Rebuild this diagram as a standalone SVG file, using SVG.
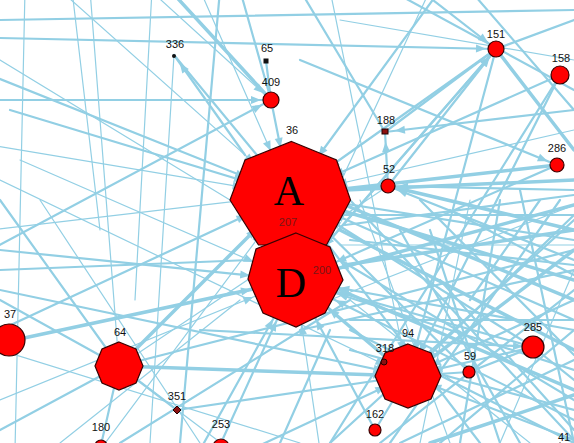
<svg xmlns="http://www.w3.org/2000/svg" width="574" height="443" viewBox="0 0 574 443">
<style>
.e{stroke:#92cfe4;stroke-width:2.2;fill:none;stroke-linecap:round}
.t{stroke-width:1.2}
.k{stroke-width:3.5}
.n{fill:#ff0000;stroke:#3a0000;stroke-width:1.2}
.s{fill:#8b1010;stroke:#220000;stroke-width:1}
.l{font-family:"Liberation Sans",Arial,sans-serif;font-size:11px;fill:#111;text-anchor:middle}
.big{font-family:"Liberation Serif","Times New Roman",serif;font-size:42px;fill:#000;text-anchor:middle}
.in{font-family:"Liberation Sans",Arial,sans-serif;font-size:11px;fill:#7a1616;text-anchor:middle}
</style>
<defs>
<marker id="aA" viewBox="0 0 10 8" markerWidth="10" markerHeight="8" refX="58" refY="4" orient="auto" markerUnits="userSpaceOnUse" overflow="visible"><path d="M0,0L10,4L0,8z" fill="#92cfe4"/></marker>
<marker id="aD" viewBox="0 0 10 8" markerWidth="10" markerHeight="8" refX="55" refY="4" orient="auto" markerUnits="userSpaceOnUse" overflow="visible"><path d="M0,0L10,4L0,8z" fill="#92cfe4"/></marker>
<marker id="aM" viewBox="0 0 10 8" markerWidth="10" markerHeight="8" refX="35" refY="4" orient="auto" markerUnits="userSpaceOnUse" overflow="visible"><path d="M0,0L10,4L0,8z" fill="#92cfe4"/></marker>
<marker id="aS" viewBox="0 0 10 8" markerWidth="10" markerHeight="8" refX="20" refY="4" orient="auto" markerUnits="userSpaceOnUse" overflow="visible"><path d="M0,0L10,4L0,8z" fill="#92cfe4"/></marker>
</defs>
<rect width="574" height="443" fill="#ffffff"/>
<g id="connectors">
<line class="e" x1="-10" y1="75" x2="290" y2="195" marker-end="url(#aA)"/>
<line class="e t" x1="-10" y1="145" x2="290" y2="195" marker-end="url(#aA)"/>
<line class="e" x1="0" y1="330" x2="290" y2="195" marker-end="url(#aA)"/>
<line class="e t" x1="60" y1="-10" x2="290" y2="195" marker-end="url(#aA)"/>
<line class="e" x1="10" y1="110" x2="290" y2="195" marker-end="url(#aA)"/>
<line class="e k" x1="119" y1="366" x2="290" y2="195" marker-end="url(#aA)"/>
<line class="e" x1="574" y1="240" x2="290" y2="195" marker-end="url(#aA)"/>
<line class="e k" x1="574" y1="280" x2="290" y2="195" marker-end="url(#aA)"/>
<line class="e" x1="496" y1="49" x2="290" y2="195" marker-end="url(#aA)"/>
<line class="e" x1="560" y1="75" x2="290" y2="195" marker-end="url(#aA)"/>
<line class="e k" x1="557" y1="165" x2="290" y2="195" marker-end="url(#aA)"/>
<line class="e" x1="533" y1="347" x2="290" y2="195" marker-end="url(#aA)"/>
<line class="e" x1="469" y1="372" x2="290" y2="195" marker-end="url(#aA)"/>
<line class="e t" x1="574" y1="130" x2="290" y2="195" marker-end="url(#aA)"/>
<line class="e" x1="480" y1="443" x2="290" y2="195" marker-end="url(#aA)"/>
<line class="e t" x1="100" y1="450" x2="290" y2="195" marker-end="url(#aA)"/>
<line class="e" x1="271" y1="100" x2="290" y2="195" marker-end="url(#aA)"/>
<line class="e" x1="388" y1="186" x2="290" y2="195" marker-end="url(#aA)"/>
<line class="e" x1="440" y1="-10" x2="290" y2="195" marker-end="url(#aA)"/>
<line class="e t" x1="200" y1="-10" x2="290" y2="195" marker-end="url(#aA)"/>
<line class="e" x1="574" y1="320" x2="290" y2="195" marker-end="url(#aA)"/>
<line class="e t" x1="-10" y1="230" x2="290" y2="195" marker-end="url(#aA)"/>
<line class="e" x1="0" y1="250" x2="295" y2="280" marker-end="url(#aD)"/>
<line class="e t" x1="0" y1="400" x2="295" y2="280" marker-end="url(#aD)"/>
<line class="e k" x1="10" y1="341" x2="295" y2="280" marker-end="url(#aD)"/>
<line class="e" x1="574" y1="330" x2="295" y2="280" marker-end="url(#aD)"/>
<line class="e k" x1="574" y1="205" x2="295" y2="280" marker-end="url(#aD)"/>
<line class="e k" x1="408" y1="376" x2="295" y2="280" marker-end="url(#aD)"/>
<line class="e" x1="200" y1="450" x2="295" y2="280" marker-end="url(#aD)"/>
<line class="e" x1="574" y1="420" x2="295" y2="280" marker-end="url(#aD)"/>
<line class="e" x1="496" y1="49" x2="295" y2="280" marker-end="url(#aD)"/>
<line class="e t" x1="430" y1="-10" x2="295" y2="280" marker-end="url(#aD)"/>
<line class="e" x1="221" y1="443" x2="295" y2="280" marker-end="url(#aD)"/>
<line class="e" x1="557" y1="165" x2="295" y2="280" marker-end="url(#aD)"/>
<line class="e t" x1="20" y1="160" x2="295" y2="280" marker-end="url(#aD)"/>
<line class="e" x1="533" y1="347" x2="295" y2="280" marker-end="url(#aD)"/>
<line class="e" x1="375" y1="430" x2="295" y2="280" marker-end="url(#aD)"/>
<line class="e" x1="574" y1="370" x2="295" y2="280" marker-end="url(#aD)"/>
<line class="e t" x1="320" y1="450" x2="295" y2="280" marker-end="url(#aD)"/>
<line class="e" x1="0" y1="290" x2="408" y2="376" marker-end="url(#aM)"/>
<line class="e k" x1="119" y1="366" x2="408" y2="376" marker-end="url(#aM)"/>
<line class="e" x1="574" y1="300" x2="408" y2="376" marker-end="url(#aM)"/>
<line class="e t" x1="330" y1="-10" x2="408" y2="376" marker-end="url(#aM)"/>
<line class="e" x1="496" y1="49" x2="408" y2="376" marker-end="url(#aM)"/>
<line class="e" x1="574" y1="215" x2="408" y2="376" marker-end="url(#aM)"/>
<line class="e" x1="250" y1="450" x2="408" y2="376" marker-end="url(#aM)"/>
<line class="e" x1="533" y1="347" x2="408" y2="376" marker-end="url(#aM)"/>
<line class="e" x1="560" y1="75" x2="408" y2="376" marker-end="url(#aM)"/>
<line class="e t" x1="0" y1="180" x2="408" y2="376" marker-end="url(#aM)"/>
<line class="e" x1="574" y1="440" x2="408" y2="376" marker-end="url(#aM)"/>
<line class="e" x1="0" y1="200" x2="119" y2="366" marker-end="url(#aS)"/>
<line class="e t" x1="90" y1="-10" x2="119" y2="366" marker-end="url(#aS)"/>
<line class="e" x1="574" y1="250" x2="119" y2="366" marker-end="url(#aS)"/>
<line class="e" x1="0" y1="430" x2="119" y2="366" marker-end="url(#aS)"/>
<line class="e t" x1="388" y1="186" x2="119" y2="366" marker-end="url(#aS)"/>
<line class="e" x1="177" y1="410" x2="119" y2="366"/>
<line class="e" x1="101" y1="445" x2="119" y2="366"/>
<line class="e" x1="0" y1="300" x2="119" y2="366"/>
<line class="e t" x1="25" y1="-10" x2="15" y2="450"/>
<line class="e t" x1="72" y1="-10" x2="100" y2="230"/>
<line class="e t" x1="152" y1="-10" x2="135" y2="300"/>
<line class="e" x1="0" y1="38" x2="496" y2="49" marker-end="url(#aS)"/>
<line class="e" x1="388" y1="186" x2="496" y2="49" marker-end="url(#aS)"/>
<line class="e" x1="330" y1="240" x2="496" y2="49" marker-end="url(#aS)"/>
<line class="e" x1="420" y1="-10" x2="496" y2="49" marker-end="url(#aS)"/>
<line class="e" x1="385" y1="132" x2="496" y2="49"/>
<line class="e" x1="574" y1="20" x2="496" y2="49"/>
<line class="e k" x1="496" y1="49" x2="574" y2="150"/>
<line class="e" x1="470" y1="-10" x2="574" y2="110"/>
<line class="e" x1="0" y1="100" x2="271" y2="100" marker-end="url(#aS)"/>
<line class="e t" x1="150" y1="-10" x2="271" y2="100" marker-end="url(#aS)"/>
<line class="e" x1="-10" y1="250" x2="271" y2="100" marker-end="url(#aS)"/>
<line class="e" x1="266" y1="61" x2="271" y2="100"/>
<line class="e" x1="240" y1="-10" x2="271" y2="100"/>
<line class="e" x1="245" y1="155" x2="174" y2="55" marker-end="url(#aS)"/>
<line class="e t" x1="174" y1="55" x2="150" y2="443"/>
<line class="e" x1="174" y1="55" x2="290" y2="195"/>
<line class="e k" x1="170" y1="-10" x2="271" y2="100"/>
<line class="e" x1="0" y1="20" x2="574" y2="10"/>
<line class="e" x1="388" y1="186" x2="385" y2="132" marker-end="url(#aS)"/>
<line class="e" x1="574" y1="110" x2="385" y2="132" marker-end="url(#aS)"/>
<line class="e" x1="300" y1="-10" x2="385" y2="132"/>
<line class="e" x1="574" y1="190" x2="388" y2="186" marker-end="url(#aS)"/>
<line class="e k" x1="574" y1="230" x2="388" y2="186" marker-end="url(#aS)"/>
<line class="e" x1="574" y1="260" x2="388" y2="186" marker-end="url(#aS)"/>
<line class="e" x1="300" y1="60" x2="557" y2="165" marker-end="url(#aS)"/>
<line class="e" x1="560" y1="75" x2="330" y2="443"/>
<line class="e" x1="390" y1="-10" x2="574" y2="90"/>
<line class="e t" x1="340" y1="20" x2="574" y2="60"/>
<line class="e" x1="200" y1="330" x2="533" y2="347" marker-end="url(#aS)"/>
<line class="e" x1="574" y1="380" x2="533" y2="347"/>
<line class="e k" x1="408" y1="376" x2="574" y2="250"/>
<line class="e" x1="330" y1="443" x2="574" y2="220"/>
<line class="e" x1="380" y1="443" x2="574" y2="290"/>
<line class="e k" x1="340" y1="230" x2="574" y2="350"/>
<line class="e" x1="340" y1="260" x2="574" y2="400"/>
<line class="e" x1="350" y1="200" x2="574" y2="440"/>
<line class="e" x1="440" y1="443" x2="574" y2="330"/>
<line class="e" x1="384" y1="362" x2="408" y2="376"/>
<line class="e" x1="375" y1="430" x2="408" y2="376"/>
<line class="e" x1="469" y1="372" x2="408" y2="376"/>
<line class="e" x1="533" y1="347" x2="469" y2="372"/>
<line class="e" x1="300" y1="330" x2="574" y2="270"/>
<line class="e" x1="340" y1="215" x2="574" y2="215"/>
<line class="e t" x1="340" y1="245" x2="574" y2="245"/>
<line class="e" x1="400" y1="443" x2="574" y2="360"/>
<line class="e t" x1="350" y1="300" x2="530" y2="443"/>
<line class="e" x1="430" y1="230" x2="500" y2="443"/>
<line class="e t" x1="470" y1="200" x2="420" y2="443"/>
<line class="e" x1="520" y1="190" x2="574" y2="443"/>
<line class="e t" x1="0" y1="350" x2="300" y2="443"/>
<line class="e" x1="120" y1="443" x2="350" y2="300"/>
<line class="e t" x1="60" y1="443" x2="240" y2="300"/>
<line class="e" x1="177" y1="410" x2="408" y2="376"/>
<line class="e t" x1="221" y1="443" x2="119" y2="366"/>
<line class="e" x1="0" y1="270" x2="250" y2="260"/>
<line class="e t" x1="40" y1="200" x2="200" y2="443"/>
<line class="e" x1="220" y1="-10" x2="180" y2="443"/>
<line class="e t" x1="0" y1="60" x2="230" y2="200"/>
<line class="e k" x1="345" y1="190" x2="574" y2="180"/>
<line class="e k" x1="345" y1="205" x2="574" y2="300"/>
<line class="e k" x1="345" y1="265" x2="574" y2="230"/>
<line class="e k" x1="340" y1="290" x2="574" y2="390"/>
<line class="e" x1="345" y1="225" x2="574" y2="195"/>
<line class="e" x1="350" y1="240" x2="574" y2="265"/>
<line class="e" x1="420" y1="200" x2="574" y2="355"/>
<line class="e" x1="450" y1="210" x2="574" y2="275"/>
<line class="e" x1="400" y1="230" x2="520" y2="443"/>
<line class="e" x1="500" y1="200" x2="460" y2="443"/>
<line class="e" x1="540" y1="200" x2="470" y2="300"/>
<line class="e k" x1="430" y1="443" x2="574" y2="395"/>
<line class="e" x1="350" y1="320" x2="574" y2="320"/>
<line class="e" x1="440" y1="280" x2="574" y2="430"/>
<line class="e" x1="560" y1="200" x2="390" y2="443"/>
<line class="e" x1="350" y1="350" x2="574" y2="410"/>
<line class="e t" x1="330" y1="300" x2="574" y2="205"/>
<line class="e t" x1="500" y1="443" x2="574" y2="270"/>
<line class="e" x1="330" y1="330" x2="280" y2="443"/>
<line class="e" x1="350" y1="330" x2="574" y2="443"/>
<line class="e t" x1="360" y1="200" x2="450" y2="443"/>
</g>
<g id="node-A"><polygon class="n" points="291.5,141.5 336.5,160 350.5,200 326.5,245 258.5,245 230,200 245,160"/><text class="big" x="289" y="205">A</text><text class="in" x="288" y="226">207</text><text class="l" x="292" y="134">36</text></g>
<g id="node-D"><polygon class="n" points="296,233 330,247 343,280 325,313 296,327 263,313 248,279 256,249"/><text class="big" x="291" y="297">D</text><text class="in" x="322" y="274">200</text></g>
<g id="node-336"><circle cx="174" cy="56" r="2" fill="#111"/><text class="l" x="175" y="48">336</text></g>
<g id="node-65"><rect x="263.5" y="58.5" width="5" height="5" fill="#111"/><text class="l" x="267" y="52">65</text></g>
<g id="node-409"><circle class="n" cx="271" cy="100" r="8"/><text class="l" x="271" y="86">409</text></g>
<g id="node-188"><rect class="s" x="382" y="129" width="6" height="5"/><text class="l" x="386" y="124">188</text></g>
<g id="node-52"><circle class="n" cx="388" cy="186" r="7"/><text class="l" x="389" y="173">52</text></g>
<g id="node-151"><circle class="n" cx="496" cy="49" r="8"/><text class="l" x="496" y="38">151</text></g>
<g id="node-158"><circle class="n" cx="560" cy="75" r="9"/><text class="l" x="561" y="62">158</text></g>
<g id="node-286"><circle class="n" cx="557" cy="165" r="7"/><text class="l" x="557" y="152">286</text></g>
<g id="node-37"><circle class="n" cx="9" cy="340" r="16"/><text class="l" x="10" y="318">37</text></g>
<g id="node-64"><polygon class="n" points="119,342 136,349 143,366 136,383 119,390 102,383 95,366 102,349"/><text class="l" x="120" y="336">64</text></g>
<g id="node-351"><polygon class="s" points="177,406 181,410 177,414 173,410"/><text class="l" x="177" y="400">351</text></g>
<g id="node-180"><circle class="n" cx="101" cy="446" r="6"/><text class="l" x="101" y="431">180</text></g>
<g id="node-253"><circle class="n" cx="221" cy="447" r="8"/><text class="l" x="221" y="428">253</text></g>
<g id="node-94"><polygon class="n" points="408,344 431,353 441,376 431,399 408,408 385,399 375,376 385,353"/><text class="l" x="408" y="337">94</text></g>
<g id="node-318"><circle class="s" cx="384" cy="362" r="3"/><text class="l" x="385" y="352">318</text></g>
<g id="node-59"><circle class="n" cx="469" cy="372" r="6"/><text class="l" x="470" y="360">59</text></g>
<g id="node-285"><circle class="n" cx="533" cy="347" r="11"/><text class="l" x="533" y="331">285</text></g>
<g id="node-162"><circle class="n" cx="375" cy="430" r="6"/><text class="l" x="375" y="418">162</text></g>
<g id="node-41"><circle class="s" cx="560" cy="446" r="3"/><text class="l" x="564" y="441">41</text></g>
</svg>
